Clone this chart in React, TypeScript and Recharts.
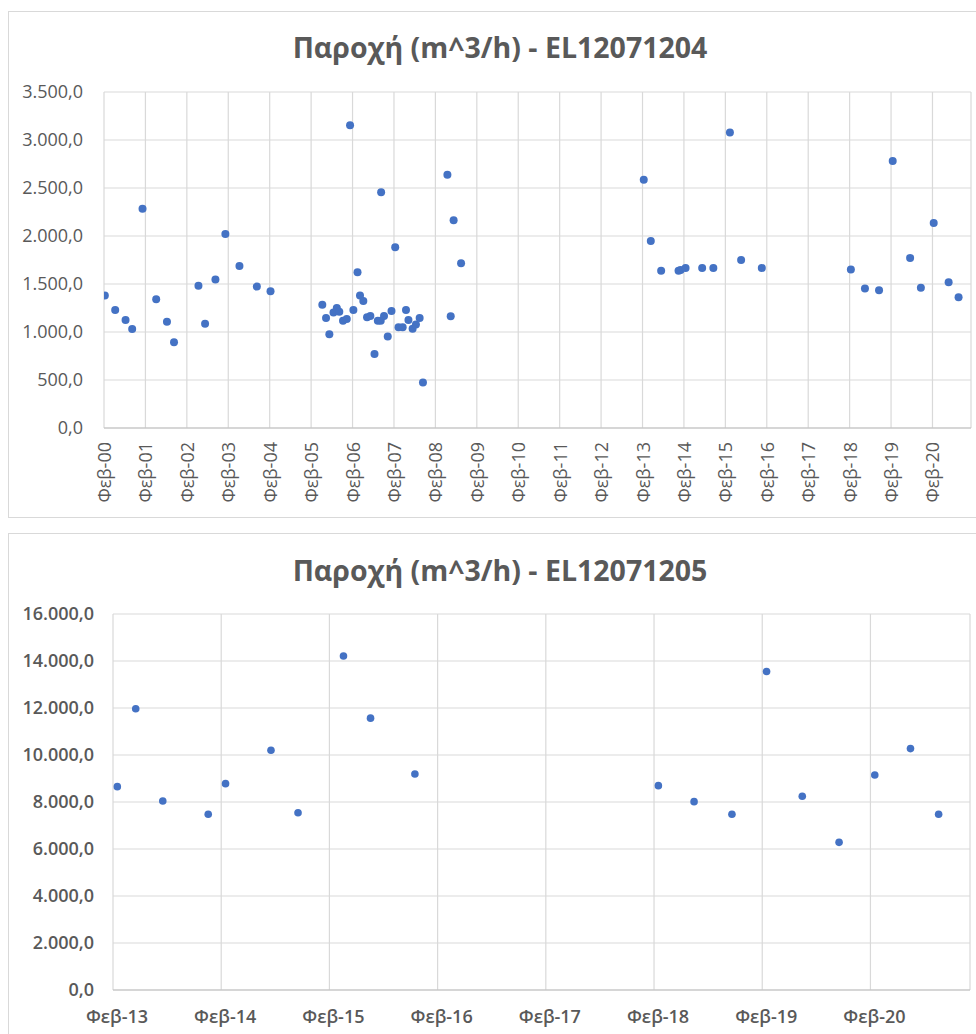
import React from 'react';
import { ScatterChart, Scatter, XAxis, YAxis, CartesianGrid } from 'recharts';

// EL12071204 - day of February (fractional) and flow (m^3/h)
const days1 = [
  0.02, 0.27, 0.52, 0.68, 0.93, 1.26, 1.52, 1.69, 2.28, 2.44, 2.69, 2.93, 3.27, 3.69, 4.02,
  5.27, 5.36, 5.44, 5.54, 5.62, 5.68, 5.77, 5.86, 5.94, 6.02, 6.12, 6.18, 6.26, 6.35, 6.43,
  6.53, 6.61, 6.69, 6.68, 6.76, 6.85, 6.94, 7.03, 7.11, 7.21, 7.29, 7.35, 7.45, 7.53, 7.62,
  7.7, 8.29, 8.37, 8.44, 8.62,
  13.03, 13.2, 13.45, 13.87, 13.92, 14.04, 14.44, 14.71, 15.11, 15.38, 15.88,
  18.03, 18.37, 18.71, 19.04, 19.46, 19.72, 20.03, 20.39, 20.63,
];
const flow1 = [
  1379, 1229, 1125, 1031, 2285, 1340, 1108, 893, 1483, 1087, 1546, 2021, 1688, 1473, 1424,
  1285, 1146, 976, 1202, 1250, 1212, 1118, 1135, 3153, 1229, 1622, 1379, 1323, 1153, 1167,
  771, 1118, 2455, 1118, 1167, 952, 1219, 1882, 1049, 1049, 1229, 1125, 1035, 1077, 1146,
  473, 2639, 1163, 2163, 1715,
  2585, 1948, 1639, 1639, 1645, 1667, 1667, 1667, 3077, 1750, 1667,
  1650, 1452, 1434, 2781, 1771, 1462, 2135, 1518, 1361,
];

// EL12071205
const days2 = [
  13.04, 13.21, 13.46, 13.88, 14.04, 14.46, 14.71, 15.13, 15.38, 15.79,
  18.04, 18.37, 18.72, 19.04, 19.37, 19.71, 20.04, 20.37, 20.63,
];
const flow2 = [
  8653, 11965, 8043, 7476, 8781, 10204, 7545, 14211, 11568, 9194,
  8696, 8014, 7476, 13555, 8244, 6283, 9152, 10273, 7476,
];

const ticks1 = [0, 1, 2, 3, 4, 5, 6, 7, 8, 9, 10, 11, 12, 13, 14, 15, 16, 17, 18, 19, 20];
const labels1 = [
  'Φεβ-00', 'Φεβ-01', 'Φεβ-02', 'Φεβ-03', 'Φεβ-04', 'Φεβ-05', 'Φεβ-06', 'Φεβ-07',
  'Φεβ-08', 'Φεβ-09', 'Φεβ-10', 'Φεβ-11', 'Φεβ-12', 'Φεβ-13', 'Φεβ-14', 'Φεβ-15',
  'Φεβ-16', 'Φεβ-17', 'Φεβ-18', 'Φεβ-19', 'Φεβ-20',
];
const ticks2 = [13, 14, 15, 16, 17, 18, 19, 20];
const labels2 = ['Φεβ-13', 'Φεβ-14', 'Φεβ-15', 'Φεβ-16', 'Φεβ-17', 'Φεβ-18', 'Φεβ-19', 'Φεβ-20'];

const yTicks1 = [0, 500, 1000, 1500, 2000, 2500, 3000, 3500];
const yTicks2 = [0, 2000, 4000, 6000, 8000, 10000, 12000, 14000, 16000];

const data1 = days1.map((d, i) => ({ x: d, y: flow1[i] }));
const data2 = days2.map((d, i) => ({ x: d, y: flow2[i] }));

const FONT = '"Open Sans", sans-serif';
const GRAY = '#595959';
const GRID = '#D9D9D9';
const BLUE = '#4472C4';

// 3500 -> "3.500,0"
const fmt = (v: number) => {
  const s = Math.round(v).toString().replace(/\B(?=(\d{3})+(?!\d))/g, '.');
  return s + ',0';
};

const Dot = (r: number) => (p: any) => <circle cx={p.cx} cy={p.cy} r={r} fill={BLUE} />;

const RotTick = (props: any) => {
  const { x, y, payload } = props;
  const label = labels1[ticks1.indexOf(payload.value)];
  return (
    <text x={x} y={y} transform={`rotate(-90 ${x} ${y})`} textAnchor="end" dominantBaseline="central"
      fontSize={18} fill={GRAY} fontFamily={FONT}>
      {label}
    </text>
  );
};

const FlatTick = (props: any) => {
  const { x, y, payload } = props;
  const label = labels2[ticks2.indexOf(payload.value)];
  return (
    <text x={x + 4} y={y} textAnchor="middle" dominantBaseline="central"
      fontSize={18} fontWeight={600} fill={GRAY} fontFamily={FONT}>
      {label}
    </text>
  );
};

const titleStyle: React.CSSProperties = {
  position: 'absolute', left: 24, width: 952, textAlign: 'center',
  fontFamily: FONT, fontSize: 28.5, fontWeight: 700, color: GRAY, lineHeight: '28px',
};

export default function App() {
  return (
    <div style={{ position: 'absolute', left: 0, top: 0, width: 976, height: 1034, overflow: 'hidden', background: '#fff' }}>
      {/* chart frames */}
      <div style={{ position: 'absolute', left: 8, top: 11, width: 990, height: 505, border: `1px solid ${GRID}` }} />
      <div style={{ position: 'absolute', left: 8, top: 533, width: 990, height: 520, border: `1px solid ${GRID}` }} />

      <div style={{ ...titleStyle, top: 33 }}>Παροχή (m^3/h) - EL12071204</div>
      <div style={{ ...titleStyle, top: 556 }}>Παροχή (m^3/h) - EL12071205</div>

      <div style={{ position: 'absolute', left: 0, top: 0 }}>
        <ScatterChart width={976} height={520} margin={{ top: 92, right: 5, bottom: 2, left: 0 }}>
          <CartesianGrid stroke={GRID} strokeWidth={1.2} />
          <XAxis type="number" dataKey="x" domain={[0, 20.93]} ticks={ticks1} interval={0}
            allowDataOverflow height={90} tickSize={0} tickMargin={14}
            axisLine={{ stroke: '#BFBFBF', strokeWidth: 1.2 }} tickLine={false} tick={<RotTick />} />
          <YAxis type="number" dataKey="y" domain={[0, 3500]} ticks={yTicks1} interval={0}
            width={104} tickSize={0} tickMargin={21} axisLine={false} tickLine={false}
            tickFormatter={fmt} tick={{ fontSize: 18, fill: GRAY, fontFamily: FONT }} />
          <Scatter data={data1} shape={Dot(4)} isAnimationActive={false} />
        </ScatterChart>
      </div>

      <div style={{ position: 'absolute', left: 0, top: 520 }}>
        <ScatterChart width={976} height={514} margin={{ top: 94, right: 6, bottom: 4, left: 0 }}>
          <CartesianGrid stroke={GRID} strokeWidth={1.2} />
          <XAxis type="number" dataKey="x" domain={[13, 20.92]} ticks={ticks2} interval={0}
            allowDataOverflow height={40} tickSize={0} tickMargin={26}
            axisLine={{ stroke: '#BFBFBF', strokeWidth: 1.2 }} tickLine={false} tick={<FlatTick />} />
          <YAxis type="number" dataKey="y" domain={[0, 16000]} ticks={yTicks2} interval={0}
            width={113} tickSize={0} tickMargin={19} axisLine={false} tickLine={false}
            tickFormatter={fmt} tick={{ fontSize: 18, fontWeight: 600, fill: GRAY, fontFamily: FONT }} />
          <Scatter data={data2} shape={Dot(3.8)} isAnimationActive={false} />
        </ScatterChart>
      </div>
    </div>
  );
}
